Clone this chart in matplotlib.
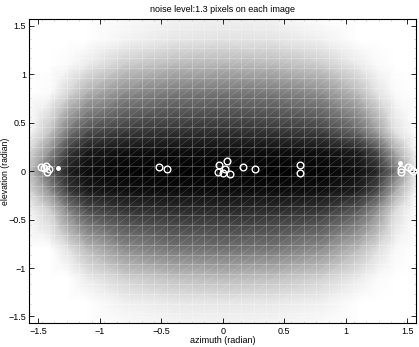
import numpy as np
import matplotlib
matplotlib.use("Agg")
import matplotlib.pyplot as plt

plt.rcParams['font.family'] = ['Liberation Sans', 'DejaVu Sans']

# gray level of the error surface (0 = black, 1 = white)
azimuth_nodes = [-1.571, -1.4, -1.25, -1.1, -0.8, -0.4, 0.0, 0.4, 0.8, 1.1, 1.25, 1.4, 1.571]
elevation_nodes = [-1.571, -1.35, -1.1, -0.8, -0.4, -0.2, 0.0, 0.2, 0.4, 0.8, 1.1, 1.35, 1.571]
gray_level = [
    [1.00, 1.00, 1.00, 1.00, 0.98, 0.96, 0.95, 0.96, 0.98, 1.00, 1.00, 1.00, 1.00],
    [1.00, 1.00, 1.00, 1.00, 0.94, 0.91, 0.90, 0.91, 0.94, 1.00, 1.00, 1.00, 1.00],
    [1.00, 1.00, 1.00, 0.92, 0.82, 0.75, 0.73, 0.75, 0.82, 0.92, 0.98, 1.00, 1.00],
    [1.00, 1.00, 0.88, 0.73, 0.55, 0.46, 0.44, 0.46, 0.55, 0.73, 0.86, 0.97, 1.00],
    [0.95, 0.80, 0.50, 0.30, 0.20, 0.17, 0.16, 0.17, 0.20, 0.35, 0.55, 0.85, 1.00],
    [0.85, 0.55, 0.22, 0.10, 0.06, 0.05, 0.05, 0.05, 0.06, 0.12, 0.28, 0.65, 0.97],
    [0.75, 0.35, 0.12, 0.05, 0.02, 0.01, 0.01, 0.01, 0.02, 0.06, 0.15, 0.45, 0.90],
    [0.85, 0.55, 0.22, 0.10, 0.06, 0.05, 0.05, 0.05, 0.06, 0.12, 0.28, 0.65, 0.97],
    [0.97, 0.75, 0.45, 0.30, 0.22, 0.19, 0.18, 0.20, 0.24, 0.40, 0.60, 0.88, 1.00],
    [1.00, 0.98, 0.83, 0.68, 0.54, 0.47, 0.45, 0.47, 0.55, 0.73, 0.88, 0.98, 1.00],
    [1.00, 1.00, 0.98, 0.92, 0.80, 0.73, 0.71, 0.73, 0.80, 0.92, 0.98, 1.00, 1.00],
    [1.00, 1.00, 1.00, 1.00, 0.95, 0.90, 0.88, 0.89, 0.94, 1.00, 1.00, 1.00, 1.00],
    [1.00, 1.00, 1.00, 1.00, 0.98, 0.95, 0.94, 0.95, 0.99, 1.00, 1.00, 1.00, 1.00],
]

# estimated camera directions (open circles) and small dots
circle_az = [-0.515, -0.452, -0.031, 0.031, -0.042, 0.006, 0.061, 0.015, 0.161, 0.266,
             0.628, 0.628,
             -1.474, -1.453, -1.439, -1.425, -1.412,
             1.445, 1.445, 1.506, 1.528, 1.547]
circle_el = [0.046, 0.026, 0.064, 0.108, -0.008, -0.022, -0.032, 0.020, 0.040, 0.026,
             0.064, -0.015,
             0.046, 0.030, 0.054, -0.005, 0.020,
             0.020, -0.011, 0.046, 0.020, 0.002]
dot_az = [-1.339, 1.439]
dot_el = [0.030, 0.088]

ticks = [-1.5, -1, -0.5, 0, 0.5, 1, 1.5]
tick_labels = ['\u22121.5', '\u22121', '\u22120.5', '0', '0.5', '1', '1.5']

fig = plt.figure(figsize=(4.19, 3.47), dpi=100)
ax = fig.add_axes([0.0704, 0.0683, 0.9224, 0.8769])

ax.pcolormesh(azimuth_nodes, elevation_nodes, np.array(gray_level),
              shading='gouraud', cmap='gray', vmin=0, vmax=1, zorder=1)

# surface mesh (31 x 31 cells, each split along one diagonal)
mesh = np.linspace(-np.pi / 2, np.pi / 2, 32)
step = mesh[1] - mesh[0]
for v in mesh:
    ax.axvline(v, color='white', alpha=0.28, lw=0.6, zorder=2)
    ax.axhline(v, color='white', alpha=0.28, lw=0.6, zorder=2)
for m in range(-31, 32):
    ax.axline((0, m * step), slope=1, color='white', alpha=0.2, lw=0.4, zorder=2)

ax.plot(circle_az, circle_el, 'o', mfc='none', mec='white', ms=4.8, mew=1.0, zorder=3)
ax.plot(dot_az, dot_el, 'o', mfc='white', mec='white', ms=2.5, zorder=3)

ax.set_xlim(-np.pi / 2, np.pi / 2)
ax.set_ylim(-np.pi / 2, np.pi / 2)
ax.set_xticks(ticks)
ax.set_xticklabels(tick_labels)
ax.set_yticks(ticks)
ax.set_yticklabels(tick_labels)
ax.set_xticks(mesh, minor=True)
ax.set_yticks(mesh, minor=True)
ax.tick_params(which='major', direction='in', top=True, right=True,
               length=3.5, width=0.6, labelsize=6.5, pad=2.5)
ax.tick_params(which='minor', direction='in', top=True, right=True,
               length=1.5, width=0.5, color='0.7')
for s in ax.spines.values():
    s.set_linewidth(0.8)

ax.set_title('noise level:1.3 pixels on each image', fontsize=6.5, pad=5)
ax.set_xlabel('azimuth (radian)', fontsize=6.5, labelpad=0.5)
ax.set_ylabel('elevation (radian)', fontsize=6.2)
ax.yaxis.set_label_coords(-0.05, 0.5)

fig.savefig('out.png', dpi=100)
